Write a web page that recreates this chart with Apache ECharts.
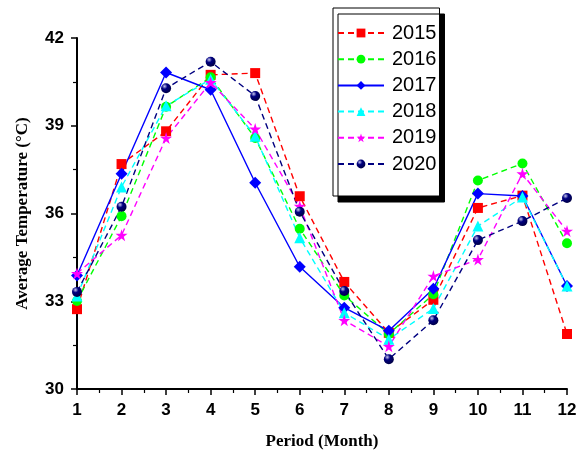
<!DOCTYPE html>
<html>
<head>
<meta charset="utf-8">
<script src="https://cdn.jsdelivr.net/npm/echarts@6/dist/echarts.min.js"></script>
<style>html,body{margin:0;padding:0;background:#fff;}#c{width:587px;height:455px;}</style>
</head>
<body>
<div id="c"></div>
<script>
const months = [1,2,3,4,5,6,7,8,9,10,11,12];
const yTicks = [30,33,36,39,42];
const s2015 = [32.73, 37.69, 38.81, 40.74, 40.80, 36.59, 33.66, 31.92, 33.05, 36.19, 36.61, 31.88];
const s2016 = [33.01, 35.91, 39.65, 40.66, 38.58, 35.48, 33.20, 31.88, 33.24, 37.13, 37.71, 34.98];
const s2017 = [33.88, 37.36, 40.82, 40.23, 37.05, 34.18, 32.78, 31.99, 33.43, 36.68, 36.60, 33.52];
const s2018 = [33.18, 36.91, 39.68, 40.59, 38.64, 35.17, 32.61, 31.70, 32.75, 35.57, 36.56, 33.52];
const s2019 = [33.95, 35.26, 38.58, 40.48, 38.89, 36.25, 32.35, 31.46, 33.86, 34.43, 37.36, 35.40];
const s2020 = [33.32, 36.23, 40.28, 41.19, 40.02, 36.06, 33.35, 31.02, 32.35, 35.09, 35.74, 36.53];
const names = ['2015','2016','2017','2018','2019','2020'];

const star = 'path://M50,0 L61,35 L98,35 L68,57 L79,91 L50,70 L21,91 L32,57 L2,35 L39,35 Z';
const sphere = {type:'radial', x:0.35, y:0.3, r:0.8, colorStops:[{offset:0,color:'#c8c8f0'},{offset:0.35,color:'#000080'},{offset:1,color:'#00003a'}]};

function pts(arr){ return arr.map((v,i)=>[months[i], v]); }
function mk(name, arr, color, symbol, size, type, fill){
  return {
    name, type:'line', data: pts(arr), symbol, symbolSize:size,
    lineStyle:{color, width:1.4, type: type==='dashed'?[6,4]:'solid'},
    itemStyle:{color: fill||color},
    emphasis:{disabled:true}, animation:false, clip:false
  };
}

const chart = echarts.init(document.getElementById('c'));
chart.setOption({
  animation:false,
  backgroundColor:'#fff',
  grid:{left:77, right:20, top:38, bottom:65, containLabel:false},
  legend:{
    orient:'vertical', left:333, top:8,
    data:names,
    itemWidth:46, itemHeight:11, itemGap:6.2,
    padding:[15,3,22,4],
    backgroundColor:'#fff', borderColor:'#000', borderWidth:1,
    shadowColor:'#000', shadowBlur:0, shadowOffsetX:5, shadowOffsetY:6,
    textStyle:{fontFamily:'Liberation Sans, Arial', fontSize:20, lineHeight:20, color:'#000', padding:[0,0,0,3]}
  },
  xAxis:{
    type:'value', min:1, max:12, interval:1,
    name:'Period (Month)', nameLocation:'middle', nameGap:44,
    nameTextStyle:{fontFamily:'Liberation Serif, Times New Roman', fontWeight:'bold', fontSize:17, color:'#000'},
    axisLine:{show:true, lineStyle:{color:'#000', width:2}},
    axisTick:{show:true, length:6, inside:false, lineStyle:{color:'#000', width:1.5}},
    minorTick:{show:true, splitNumber:2, length:4, lineStyle:{color:'#000', width:1.2}},
    axisLabel:{fontFamily:'Liberation Sans, Arial', fontWeight:'bold', fontSize:17, color:'#000', margin:13},
    splitLine:{show:false}
  },
  yAxis:{
    type:'value', min:yTicks[0], max:yTicks[yTicks.length-1], interval:3,
    name:'Average Temperature (°C)', nameLocation:'middle', nameGap:46,
    nameTextStyle:{fontFamily:'Liberation Serif, Times New Roman', fontWeight:'bold', fontSize:17, color:'#000'},
    axisLine:{show:true, lineStyle:{color:'#000', width:2}},
    axisTick:{show:true, length:6, inside:false, lineStyle:{color:'#000', width:1.5}},
    minorTick:{show:true, splitNumber:2, length:4, lineStyle:{color:'#000', width:1.2}},
    axisLabel:{fontFamily:'Liberation Sans, Arial', fontWeight:'bold', fontSize:17, color:'#000', margin:13},
    splitLine:{show:false}
  },
  series:[
    mk('2015', s2015, '#ff0000', 'rect', 10, 'dashed'),
    mk('2016', s2016, '#00ff00', 'circle', 10, 'dashed'),
    mk('2017', s2017, '#0000ff', 'diamond', 12, 'solid'),
    mk('2018', s2018, '#00ffff', 'triangle', 11, 'dashed'),
    mk('2019', s2019, '#ff00ff', star, 12, 'dashed'),
    mk('2020', s2020, '#000080', 'circle', 10, 'dashed', sphere)
  ]
});
</script>
</body>
</html>
